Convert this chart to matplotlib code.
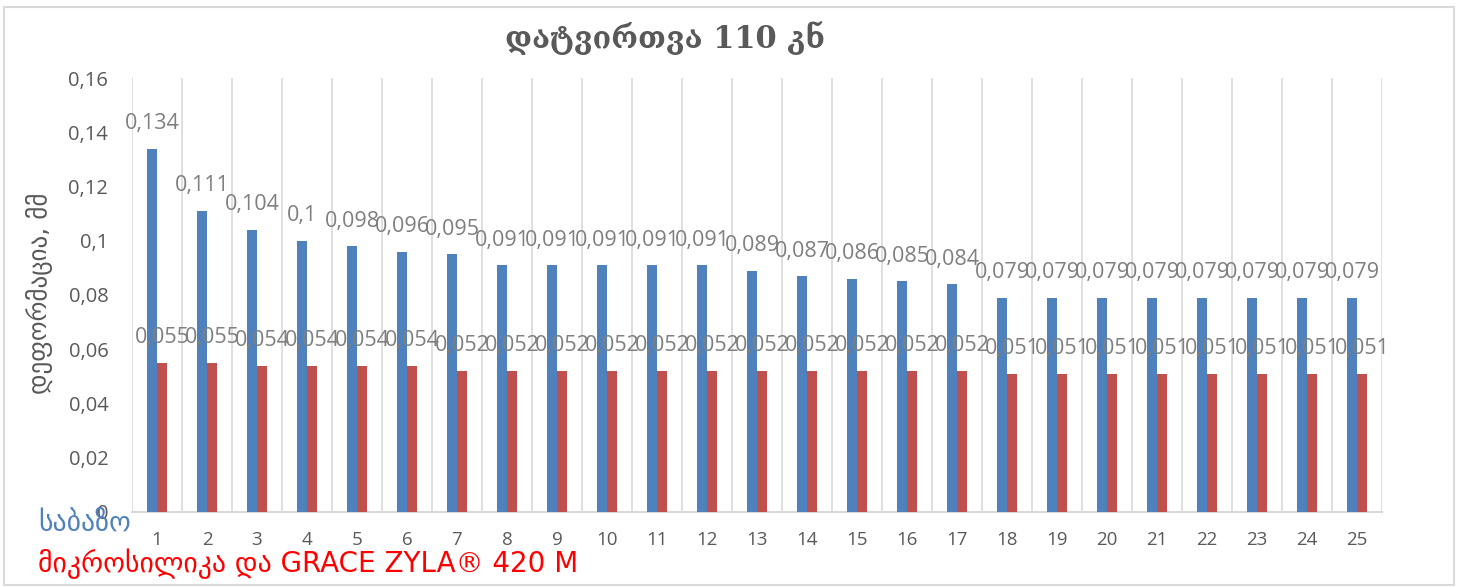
import matplotlib.pyplot as plt
import numpy as np

# data
categories = [str(i) for i in range(1, 26)]
base = [0.134, 0.111, 0.104, 0.1, 0.098, 0.096, 0.095, 0.091, 0.091, 0.091,
        0.091, 0.091, 0.089, 0.087, 0.086, 0.085, 0.084, 0.079, 0.079, 0.079,
        0.079, 0.079, 0.079, 0.079, 0.079]
silica = [0.055, 0.055, 0.054, 0.054, 0.054, 0.054, 0.052, 0.052, 0.052, 0.052,
          0.052, 0.052, 0.052, 0.052, 0.052, 0.052, 0.052, 0.051, 0.051, 0.051,
          0.051, 0.051, 0.051, 0.051, 0.051]
yticks = [0, 0.02, 0.04, 0.06, 0.08, 0.1, 0.12, 0.14, 0.16]

title = 'დატვირთვა 110 კნ'
ylabel = 'დეფორმაცია, მმ'
name_base = 'საბაზო'
name_silica = 'მიკროსილიკა და GRACE ZYLA® 420 M'

blue = '#4F81BD'
red = '#C0504D'
gray = '#595959'
grid = '#D9D9D9'

plt.rcParams['font.family'] = ['Open Sans', 'DejaVu Sans']


def fmt(v):
    return ('%g' % v).replace('.', ',')


fig = plt.figure(figsize=(14.58, 5.87), dpi=100)
# light frame around the whole chart
fig.patches.append(plt.Rectangle((0.003, 0.003), 0.994, 0.985, transform=fig.transFigure,
                                 fill=False, edgecolor=grid, linewidth=1.5))

ax = fig.add_axes([0.0905, 0.1278, 0.8574, 0.7393])
x = np.arange(len(categories))
w = 0.2
ax.bar(x - w / 2, base, w, color=blue, zorder=3)
ax.bar(x + w / 2, silica, w, color=red, zorder=3)

for xi, v in zip(x, base):
    ax.annotate(fmt(v), (xi - w / 2, v), xytext=(0, 18), textcoords='offset points',
                ha='center', va='center', fontsize=15.5, color='#7F7F7F')
for xi, v in zip(x, silica):
    ax.annotate(fmt(v), (xi + w / 2, v), xytext=(0, 18), textcoords='offset points',
                ha='center', va='center', fontsize=15.5, color='#7F7F7F')

ax.set_xlim(-0.5, len(categories) - 0.5)
ax.set_ylim(0, 0.16)
ax.set_yticks(yticks)
ax.set_yticklabels([fmt(t) for t in yticks])
ax.set_xticks(x)
ax.set_xticklabels(categories)
ax.tick_params(axis='y', length=0, pad=17, labelsize=14.5, labelcolor=gray)
ax.tick_params(axis='x', length=0, pad=14, labelsize=13.5, labelcolor=gray)

# vertical gridlines between categories
for b in np.arange(-0.5, len(categories), 1.0):
    ax.axvline(b, color=grid, linewidth=1.2, zorder=1)
for s in ['top', 'right', 'left']:
    ax.spines[s].set_visible(False)
ax.spines['bottom'].set_color(grid)
ax.spines['bottom'].set_linewidth(1.5)

fig.text(0.456, 0.935, title, ha='center', va='center', fontsize=22, color=gray,
         fontweight='bold', family=['DejaVu Serif', 'DejaVu Sans'])
fig.text(0.027, 0.50, ylabel, ha='center', va='center', rotation=90, fontsize=18,
         color=gray, family=['DejaVu Sans'])
fig.text(0.026, 0.108, name_base, ha='left', va='center', fontsize=20, color=blue,
         family=['DejaVu Sans'])
fig.text(0.026, 0.040, name_silica, ha='left', va='center', fontsize=20, color='#FF0000',
         family=['DejaVu Sans'])

fig.savefig('out.png', dpi=100)
